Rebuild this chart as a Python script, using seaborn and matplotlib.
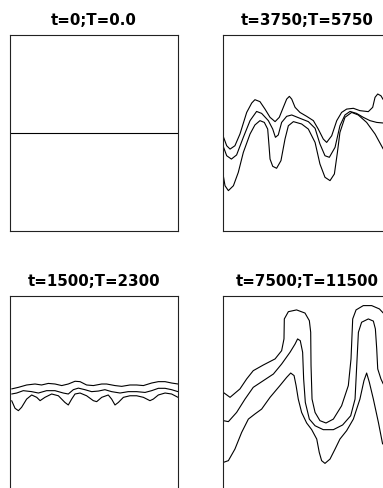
import matplotlib
matplotlib.use("Agg")
import matplotlib.pyplot as plt
import seaborn as sns
import pandas as pd

# ---------------- data (x, y in box-fraction units) ----------------
titles = ["t=0;T=0.0", "t=3750;T=5750", "t=1500;T=2300", "t=7500;T=11500"]

# panel 1: flat interface
p1_x = [0.0, 1.0]
p1_y = [0.5, 0.5]

# panel 2: t=3750
p2_top_x = [0.0, 0.022, 0.042, 0.071, 0.101, 0.141, 0.171, 0.190, 0.220, 0.250, 0.280, 0.310,
            0.335, 0.359, 0.379, 0.395, 0.409, 0.429, 0.458, 0.498, 0.538, 0.567, 0.597, 0.617,
            0.647, 0.677, 0.706, 0.736, 0.776, 0.815, 0.865, 0.891, 0.905, 0.921, 0.940, 0.954]
p2_top_y = [0.486, 0.435, 0.418, 0.435, 0.495, 0.605, 0.653, 0.670, 0.660, 0.622, 0.580, 0.558,
            0.580, 0.631, 0.673, 0.687, 0.673, 0.631, 0.605, 0.585, 0.563, 0.520, 0.469, 0.452,
            0.486, 0.563, 0.605, 0.622, 0.626, 0.614, 0.609, 0.631, 0.682, 0.699, 0.690, 0.670]
p2_mid_x = [0.0, 0.022, 0.050, 0.081, 0.121, 0.161, 0.200, 0.230, 0.270, 0.296, 0.312, 0.329,
            0.349, 0.379, 0.409, 0.458, 0.508, 0.548, 0.577, 0.607, 0.633, 0.667, 0.696, 0.726,
            0.756, 0.795, 0.835, 0.875, 0.915, 0.954]
p2_mid_y = [0.435, 0.384, 0.367, 0.388, 0.478, 0.563, 0.610, 0.600, 0.563, 0.520, 0.478, 0.490,
            0.554, 0.585, 0.592, 0.575, 0.558, 0.524, 0.444, 0.384, 0.376, 0.427, 0.537, 0.592,
            0.610, 0.600, 0.580, 0.563, 0.554, 0.551]
p2_bot_x = [0.0, 0.012, 0.032, 0.062, 0.091, 0.121, 0.161, 0.190, 0.220, 0.246, 0.266, 0.274,
            0.280, 0.296, 0.319, 0.345, 0.369, 0.389, 0.419, 0.468, 0.508, 0.548, 0.577, 0.607,
            0.637, 0.663, 0.681, 0.696, 0.726, 0.766, 0.805, 0.855, 0.905, 0.954]
p2_bot_y = [0.291, 0.231, 0.206, 0.231, 0.299, 0.401, 0.495, 0.541, 0.563, 0.554, 0.520, 0.435,
            0.367, 0.330, 0.320, 0.359, 0.469, 0.537, 0.558, 0.546, 0.520, 0.452, 0.342, 0.274,
            0.257, 0.291, 0.401, 0.503, 0.580, 0.605, 0.592, 0.554, 0.495, 0.418]

# panel 3: t=1500
p3_top_x = [0.010, 0.050, 0.099, 0.149, 0.188, 0.228, 0.268, 0.308, 0.347, 0.387, 0.417, 0.456,
            0.496, 0.546, 0.575, 0.625, 0.665, 0.714, 0.754, 0.794, 0.843, 0.883, 0.923, 0.962, 1.0]
p3_top_y = [0.526, 0.534, 0.546, 0.551, 0.546, 0.554, 0.551, 0.543, 0.551, 0.565, 0.563, 0.546,
            0.543, 0.551, 0.551, 0.543, 0.539, 0.546, 0.546, 0.543, 0.556, 0.563, 0.563, 0.556, 0.551]
p3_mid_x = [0.010, 0.040, 0.079, 0.129, 0.169, 0.218, 0.268, 0.317, 0.347, 0.377, 0.407, 0.446,
            0.486, 0.526, 0.565, 0.605, 0.655, 0.704, 0.754, 0.804, 0.843, 0.883, 0.923, 0.962, 1.0]
p3_mid_y = [0.500, 0.505, 0.517, 0.512, 0.505, 0.517, 0.517, 0.505, 0.500, 0.522, 0.530, 0.522,
            0.512, 0.515, 0.522, 0.512, 0.505, 0.512, 0.512, 0.508, 0.517, 0.529, 0.529, 0.522, 0.512]
p3_bot_x = [0.010, 0.030, 0.050, 0.069, 0.099, 0.129, 0.159, 0.179, 0.208, 0.248, 0.288, 0.327,
            0.347, 0.367, 0.387, 0.417, 0.456, 0.496, 0.516, 0.546, 0.585, 0.605, 0.625, 0.645,
            0.675, 0.714, 0.754, 0.794, 0.833, 0.853, 0.883, 0.923, 0.962, 1.0]
p3_bot_y = [0.466, 0.427, 0.415, 0.432, 0.474, 0.495, 0.483, 0.466, 0.483, 0.500, 0.491, 0.457,
            0.444, 0.474, 0.500, 0.505, 0.491, 0.466, 0.461, 0.483, 0.495, 0.474, 0.444, 0.457,
            0.483, 0.491, 0.491, 0.483, 0.466, 0.474, 0.495, 0.505, 0.500, 0.483]

# panel 4: t=7500
p4_top_x = [0.002, 0.042, 0.101, 0.141, 0.180, 0.240, 0.310, 0.349, 0.363, 0.365, 0.389, 0.438,
            0.488, 0.514, 0.522, 0.524, 0.530, 0.548, 0.577, 0.613, 0.657, 0.706, 0.746, 0.762,
            0.772, 0.792, 0.835, 0.885, 0.931, 0.954]
p4_top_y = [0.508, 0.483, 0.526, 0.577, 0.619, 0.648, 0.679, 0.721, 0.781, 0.883, 0.920, 0.929,
            0.913, 0.874, 0.815, 0.645, 0.474, 0.406, 0.364, 0.352, 0.372, 0.440, 0.543, 0.679,
            0.883, 0.929, 0.951, 0.951, 0.934, 0.913]
p4_mid_x = [0.002, 0.032, 0.081, 0.131, 0.180, 0.240, 0.300, 0.349, 0.399, 0.429, 0.444, 0.460,
            0.474, 0.480, 0.490, 0.514, 0.548, 0.597, 0.657, 0.712, 0.760, 0.786, 0.796, 0.806,
            0.825, 0.865, 0.895, 0.907, 0.915, 0.921, 0.940, 0.954]
p4_mid_y = [0.364, 0.359, 0.406, 0.474, 0.534, 0.568, 0.602, 0.653, 0.713, 0.755, 0.781, 0.772,
            0.713, 0.577, 0.457, 0.372, 0.338, 0.318, 0.318, 0.342, 0.389, 0.474, 0.645, 0.815,
            0.866, 0.883, 0.872, 0.832, 0.730, 0.628, 0.577, 0.551]
p4_bot_x = [0.002, 0.032, 0.071, 0.111, 0.151, 0.190, 0.230, 0.280, 0.339, 0.379, 0.403, 0.423,
            0.435, 0.448, 0.468, 0.498, 0.528, 0.558, 0.573, 0.587, 0.607, 0.637, 0.667, 0.696,
            0.736, 0.776, 0.815, 0.839, 0.855, 0.871, 0.895, 0.925, 0.950]
p4_bot_y = [0.151, 0.160, 0.219, 0.304, 0.372, 0.398, 0.423, 0.483, 0.543, 0.585, 0.607, 0.594,
            0.543, 0.474, 0.406, 0.352, 0.318, 0.270, 0.202, 0.160, 0.146, 0.168, 0.219, 0.270,
            0.313, 0.372, 0.474, 0.568, 0.607, 0.560, 0.474, 0.355, 0.245]

panels = [
    [(p1_x, p1_y)],
    [(p2_top_x, p2_top_y), (p2_mid_x, p2_mid_y), (p2_bot_x, p2_bot_y)],
    [(p3_top_x, p3_top_y), (p3_mid_x, p3_mid_y), (p3_bot_x, p3_bot_y)],
    [(p4_top_x, p4_top_y), (p4_mid_x, p4_mid_y), (p4_bot_x, p4_bot_y)],
]

# ---------------- drawing ----------------
sns.set_theme(style="white")
plt.rcParams["font.family"] = ["DejaVu Sans"]

W, H = 383, 489
fig = plt.figure(figsize=(W / 100, H / 100), dpi=100)
fig.patch.set_facecolor("white")

# box pixel geometry (left, top) ; width 168, height 196
boxes = [(10, 36), (223, 36), (10, 297), (223, 297)]
bw, bh = 168, 196

for i, ((lx, ty), curves) in enumerate(zip(boxes, panels)):
    ax = fig.add_axes([lx / W, (H - ty - bh) / H, bw / W, bh / H])
    for cx, cy in curves:
        df = pd.DataFrame({"x": cx, "y": cy})
        sns.lineplot(data=df, x="x", y="y", sort=False, estimator=None,
                     color="black", linewidth=0.8, ax=ax)
    ax.set_xlim(0, 1)
    ax.set_ylim(0, 1)
    ax.set_xticks([])
    ax.set_yticks([])
    ax.set_xlabel("")
    ax.set_ylabel("")
    for s in ax.spines.values():
        s.set_visible(True)
        s.set_color("#222222")
        s.set_linewidth(0.8)
    ax.set_title(titles[i], fontsize=10.8, fontweight="bold", pad=8, color="black")

fig.savefig("out.png", dpi=100, facecolor="white")
